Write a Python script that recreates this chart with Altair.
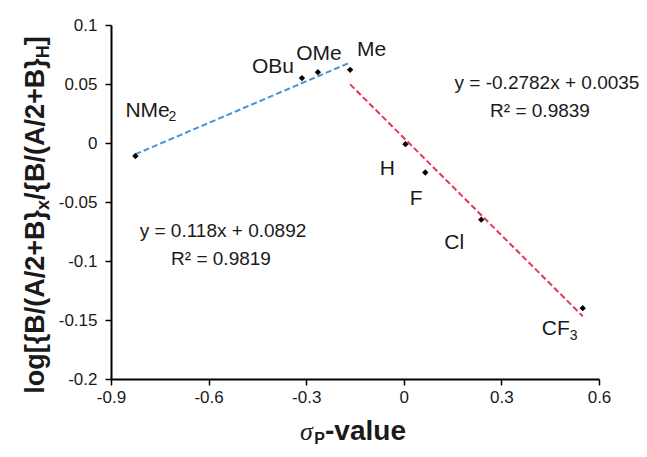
import altair as alt
import pandas as pd

# ---------------- data ----------------
substituents = ["NMe2", "OBu", "OMe", "Me", "H", "F", "Cl", "CF3"]
sigma_p = [-0.825, -0.313, -0.264, -0.165, 0.005, 0.066, 0.238, 0.55]
log_ratio = [-0.011, 0.055, 0.060, 0.062, -0.001, -0.025, -0.065, -0.140]
donor_group = ["NMe2", "OBu", "OMe", "Me"]
acceptor_group = ["Me", "H", "F", "Cl", "CF3"]
x_ticks = [-0.9, -0.6, -0.3, 0, 0.3, 0.6]
y_ticks = [-0.2, -0.15, -0.1, -0.05, 0, 0.05, 0.1]
eq_left = ["y = 0.118x + 0.0892", "R\u00b2 = 0.9819"]
eq_right = ["y = -0.2782x + 0.0035", "R\u00b2 = 0.9839"]

df = pd.DataFrame({"sub": substituents, "x": sigma_p, "y": log_ratio})

# ---------------- style ----------------
FONT = "Liberation Sans"
W, H = 488, 354
PAD = {"left": 103, "top": 17, "right": 40, "bottom": 68}
BLUE = "#4a93d0"
RED = "#e3394c"

X = alt.X("x:Q", scale=alt.Scale(domain=[-0.9, 0.6], nice=False, zero=False),
          axis=alt.Axis(values=x_ticks, title=None, labelExpr="'' + datum.value",
                        labelFlush=False))
Y = alt.Y("y:Q", scale=alt.Scale(domain=[-0.2, 0.1], nice=False, zero=False),
          axis=alt.Axis(values=y_ticks, title=None, labelExpr="'' + datum.value",
                        labelFlush=False))

base = alt.Chart(df)

blue_line = base.transform_filter(
    alt.FieldOneOfPredicate(field="sub", oneOf=donor_group)
).transform_regression("x", "y").mark_line(
    color=BLUE, strokeDash=[6, 3], strokeWidth=2
).encode(x=X, y=Y)

red_line = base.transform_filter(
    alt.FieldOneOfPredicate(field="sub", oneOf=acceptor_group)
).transform_regression("x", "y").mark_line(
    color=RED, strokeDash=[6, 3], strokeWidth=2
).encode(x=X, y=Y)

points = base.mark_point(shape="diamond", filled=True, color="black",
                         size=40, opacity=1).encode(x=X, y=Y)

# label text, subscript, alignment, offsets (pixels)
label_style = {
    "NMe2": ("NMe", "2", "left", -10, -39, 33, -35),
    "OBu": ("OBu", "", "right", -8, -5, 0, 0),
    "OMe": ("OMe", "", "center", 1, -12, 0, 0),
    "Me": ("Me", "", "left", 7, -14, 0, 0),
    "H": ("H", "", "center", -18, 31, 0, 0),
    "F": ("F", "", "center", -9, 32, 0, 0),
    "Cl": ("Cl", "", "center", -27, 29, 0, 0),
    "CF3": ("CF", "3", "left", -41, 27, -13, 32),
}

layers = [blue_line, red_line, points]
for name, (main, sub, align, dx, dy, sdx, sdy) in label_style.items():
    sel = base.transform_filter(alt.datum.sub == name)
    layers.append(sel.mark_text(align=align, baseline="alphabetic", dx=dx, dy=dy,
                                font=FONT, fontSize=21, color="#1a1a1a")
                  .encode(x=X, y=Y, text=alt.value(main)))
    if sub:
        layers.append(sel.mark_text(align="left", baseline="alphabetic", dx=sdx, dy=sdy,
                                    font=FONT, fontSize=14, color="#1a1a1a")
                      .encode(x=X, y=Y, text=alt.value(sub)))


def annot(text, x, y, size=19, align="center", angle=None, weight="normal",
          font=FONT, style="normal"):
    kw = dict(align=align, baseline="alphabetic", font=font, fontSize=size,
              color="#1a1a1a", fontWeight=weight, fontStyle=style)
    if angle is not None:
        kw["angle"] = angle
    return alt.Chart(pd.DataFrame({"t": [text]})).mark_text(**kw).encode(
        x=alt.value(x), y=alt.value(y), text="t:N")


# regression equations
layers += [
    annot(eq_left[0], 112, 212),
    annot(eq_left[1], 110, 240),
    annot(eq_right[0], 436, 64),
    annot(eq_right[1], 429, 92),
]

# ---- rotated y-axis title with subscripts ----
BOLD_W = {"l": 278, "o": 611, "g": 611, "[": 333, "{": 389, "B": 722, "/": 278,
          "(": 333, "A": 722, "2": 556, "+": 584, "}": 389, "x": 556, "H": 722,
          "]": 333, "-": 333, "v": 556, "a": 556, "u": 611, "e": 556, "P": 667}


def width(text, size):
    return sum(BOLD_W.get(c, 556) for c in text) * size / 1000


title_segments = [("log[{B/(A/2+B}", 27, 0), ("x", 18, 5), ("/{B/(A/2+B}", 27, 0),
                  ("H", 18, 5), ("]", 27, 0)]
total = sum(width(t, s) for t, s, _ in title_segments)
ty = 190 + total / 2
tx = -67
for text, size, shift in title_segments:
    layers.append(annot(text, tx + shift, ty, size=size, align="left", angle=270,
                        weight="bold"))
    ty -= width(text, size)

# ---- x-axis title ----
sig_w = 0.55 * 26
x_parts = [("\u03c3", 26, 0, "Liberation Serif", "italic", "normal", sig_w),
           ("P", 16, 4, FONT, "normal", "bold", width("P", 16)),
           ("-value", 28, 0, FONT, "normal", "bold", width("-value", 28))]
tot_x = sum(p[6] for p in x_parts)
cx = 242 - tot_x / 2
for text, size, shift, font, style, weight, w in x_parts:
    layers.append(annot(text, cx, 415 + shift, size=size, align="left",
                        weight=weight, font=font, style=style))
    cx += w

chart = alt.layer(*layers).properties(
    width=W, height=H,
    autosize=alt.AutoSizeParams(type="none"),
    padding=PAD,
).configure_view(stroke=None).configure_axis(
    grid=False, domainColor="black", domainWidth=2, tickColor="black",
    tickWidth=1.5, tickSize=6, labelFont=FONT, labelFontSize=17,
    labelColor="#1a1a1a", labelPadding=4,
).configure_axisY(labelPadding=8)

chart.save("out.html", embed_options={"renderer": "svg", "actions": False})
